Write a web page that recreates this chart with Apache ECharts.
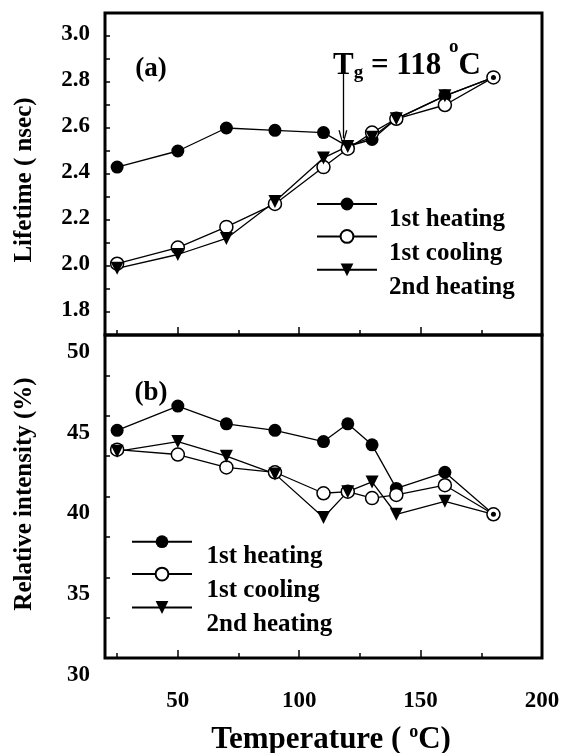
<!DOCTYPE html>
<html>
<head>
<meta charset="utf-8">
<script src="https://cdn.jsdelivr.net/npm/echarts@6.0.0/dist/echarts.min.js"></script>
<style>
  html, body { margin: 0; padding: 0; background: #fff; }
  #chart { width: 565px; height: 753px; }
</style>
</head>
<body>
<div id="chart"></div>
<script>
// temperatures (oC)
const temps = [25, 50, 70, 90, 110, 120, 130, 140, 160, 180];

// (a) lifetime, nsec
const lifeHeat1 = [2.43, 2.50, 2.60, 2.59, 2.58, 2.52, 2.55, 2.64, 2.74, 2.82];
const lifeCool1 = [2.01, 2.08, 2.17, 2.27, 2.43, 2.51, 2.58, 2.64, 2.70, 2.82];
const lifeHeat2 = [1.99, 2.05, 2.12, 2.28, 2.47, 2.52, 2.56, 2.64, 2.74, 2.82];

// (b) relative intensity, %
const intHeat1 = [44.1, 45.6, 44.5, 44.1, 43.4, 44.5, 43.2, 40.5, 41.5, 38.9];
const intCool1 = [42.9, 42.6, 41.8, 41.5, 40.2, 40.3, 39.9, 40.1, 40.7, 38.9];
const intHeat2 = [42.8, 43.4, 42.5, 41.4, 38.7, 40.3, 40.9, 38.9, 39.7, 38.9];

const seriesNames = ['1st heating', '1st cooling', '2nd heating'];

// glass transition marker
const tgTemp = 118;
const tgArrow = [2.889, 2.555];

// ticks / labels
const tempMajorTicks = [50, 100, 150];
const tempMinorTicks = [25, 75, 125, 175];
const tempLabels = [50, 100, 150, 200];
const lifeTicks = [1.8, 1.9, 2.0, 2.1, 2.2, 2.3, 2.4, 2.5, 2.6, 2.7, 2.8, 2.9, 3.0];
const lifeLabels = [1.8, 2.0, 2.2, 2.4, 2.6, 2.8, 3.0];
const intTicks = [32.5, 35, 37.5, 40, 42.5, 45, 47.5];
const intLabels = [30, 35, 40, 45, 50];

const FONT = '"Liberation Serif", "Times New Roman", serif';

function pairs(ys) {
  return temps.map((t, i) => [t, ys[i]]);
}
// last 2nd-heating point coincides with the others: draw it as a small dot (⊙ look)
function heat2Data(ys) {
  const d = pairs(ys);
  const last = d.length - 1;
  d[last] = { value: d[last], symbol: 'circle', symbolSize: 5, symbolRotate: 0 };
  return d;
}

const line = { color: '#000', width: 1.3 };

function makeSeries(h1, c1, h2, xi, yi) {
  return [
    {
      name: seriesNames[0], type: 'line', xAxisIndex: xi, yAxisIndex: yi,
      data: pairs(h1), symbol: 'circle', symbolSize: 13,
      itemStyle: { color: '#000' }, lineStyle: line
    },
    {
      name: seriesNames[1], type: 'line', xAxisIndex: xi, yAxisIndex: yi,
      data: pairs(c1), symbol: 'circle', symbolSize: 13,
      itemStyle: { color: '#fff', borderColor: '#000', borderWidth: 1.5 }, lineStyle: line
    },
    {
      name: seriesNames[2], type: 'line', xAxisIndex: xi, yAxisIndex: yi,
      data: heat2Data(h2), symbol: 'triangle', symbolRotate: 180, symbolSize: 13,
      itemStyle: { color: '#000' }, lineStyle: line
    }
  ];
}

const topSeries = makeSeries(lifeHeat1, lifeCool1, lifeHeat2, 0, 0);
const botSeries = makeSeries(intHeat1, intCool1, intHeat2, 1, 1);

// Tg arrow
topSeries[0].markLine = {
  silent: true,
  animation: false,
  symbol: ['none', 'path://M5,0L10,16L8.4,16L5,4L1.6,16L0,16Z'],
  symbolSize: [9, 16],
  lineStyle: { color: '#000', width: 1.3, type: 'solid' },
  label: { show: false },
  emphasis: { disabled: true },
  data: [[{ coord: [tgTemp, tgArrow[0]] }, { coord: [tgTemp, tgArrow[1]] }]]
};

const labelFont = { color: '#000', fontFamily: FONT, fontWeight: 'bold', fontSize: 23 };
const tickStyle = { color: '#000', width: 1.5 };

function xAxisDef(grid, ticks, len, labels) {
  return {
    type: 'value', gridIndex: grid, position: 'bottom', min: 20, max: 200,
    axisLine: { show: false },
    splitLine: { show: false },
    axisTick: { show: true, inside: true, length: len, customValues: ticks, lineStyle: tickStyle },
    axisLabel: labels
      ? Object.assign({ show: true, customValues: labels, margin: 32 }, labelFont)
      : { show: false }
  };
}

const legendText = Object.assign({}, labelFont, { fontSize: 25, lineHeight: 25 });

function legendPair(iconLeft, iconTop, textLeft, textTop) {
  return [
    {
      data: seriesNames, orient: 'vertical', left: iconLeft, top: iconTop,
      itemWidth: 60, itemHeight: 16, itemGap: 18, padding: 0,
      selectedMode: false, formatter: () => '',
      textStyle: { fontSize: 10 }
    },
    {
      data: seriesNames, orient: 'vertical', left: textLeft, top: textTop,
      icon: 'none', itemWidth: 0, itemHeight: 25, itemGap: 9, padding: 0,
      selectedMode: false, textStyle: legendText
    }
  ];
}

function titleText(x, y, rot, text) {
  return {
    type: 'text', x: x, y: y, rotation: rot,
    style: { text: text, fill: '#000', fontFamily: FONT, fontWeight: 'bold', fontSize: 25,
      align: 'center', verticalAlign: 'middle' }
  };
}

const chart = echarts.init(document.getElementById('chart'), null, { renderer: 'canvas' });
chart.setOption({
  animation: false,
  backgroundColor: '#fff',
  grid: [
    { left: 105, right: 23, top: 13, height: 322, show: true, borderColor: '#000', borderWidth: 3 },
    { left: 105, right: 23, top: 335, height: 323, show: true, borderColor: '#000', borderWidth: 3 }
  ],
  xAxis: [
    xAxisDef(0, tempMajorTicks, 8, null),
    xAxisDef(1, tempMajorTicks, 8, tempLabels),
    xAxisDef(0, tempMinorTicks, 5, null),
    xAxisDef(1, tempMinorTicks, 5, null)
  ],
  yAxis: [
    {
      type: 'value', gridIndex: 0, min: 1.7, max: 3.1,
      axisLine: { show: false }, splitLine: { show: false },
      axisTick: { show: true, inside: true, length: 5, customValues: lifeTicks, lineStyle: tickStyle },
      axisLabel: Object.assign({
        customValues: lifeLabels, margin: 15, verticalAlign: 'bottom', lineHeight: 4,
        formatter: v => v.toFixed(1)
      }, labelFont)
    },
    {
      type: 'value', gridIndex: 1, min: 30, max: 50,
      axisLine: { show: false }, splitLine: { show: false },
      axisTick: { show: true, inside: true, length: 5, customValues: intTicks, lineStyle: tickStyle },
      axisLabel: Object.assign({
        customValues: intLabels, margin: 15, verticalAlign: 'top', lineHeight: 34
      }, labelFont)
    }
  ],
  legend: legendPair(316, 196, 384, 207.5).concat(legendPair(131, 533.7, 201.5, 544.2)),
  graphic: [
    titleText(25, 180, Math.PI / 2, 'Lifetime ( nsec)'),
    titleText(25, 494, Math.PI / 2, 'Relative intensity (%)'),
    {
      type: 'text', x: 331, y: 740,
      style: {
        text: '{t|Temperature ( }{s|o}{t|C)}', fill: '#000',
        align: 'center', verticalAlign: 'middle',
        rich: {
          t: { fontFamily: FONT, fontWeight: 'bold', fontSize: 31, lineHeight: 36, verticalAlign: 'middle' },
          s: { fontFamily: FONT, fontWeight: 'bold', fontSize: 18, lineHeight: 18, padding: [0, 0, 16, 0], verticalAlign: 'middle' }
        }
      }
    },
    {
      type: 'text', x: 151, y: 69,
      style: { text: '(a)', fill: '#000', fontFamily: FONT, fontWeight: 'bold', fontSize: 27,
        align: 'center', verticalAlign: 'middle' }
    },
    {
      type: 'text', x: 151, y: 393,
      style: { text: '(b)', fill: '#000', fontFamily: FONT, fontWeight: 'bold', fontSize: 27,
        align: 'center', verticalAlign: 'middle' }
    },
    {
      type: 'text', x: 333, y: 66,
      style: {
        text: '{t|T}{g|g}{t| = ' + tgTemp + ' }{s|o}{t|C}', fill: '#000',
        align: 'left', verticalAlign: 'middle',
        rich: {
          t: { fontFamily: FONT, fontWeight: 'bold', fontSize: 31, lineHeight: 36, verticalAlign: 'middle' },
          g: { fontFamily: FONT, fontWeight: 'bold', fontSize: 19, lineHeight: 19, padding: [14, 0, 0, 0], verticalAlign: 'middle' },
          s: { fontFamily: FONT, fontWeight: 'bold', fontSize: 19, lineHeight: 19, padding: [0, 0, 38, 0], verticalAlign: 'middle' }
        }
      }
    }
  ],
  series: topSeries.concat(botSeries)
});
</script>
</body>
</html>
